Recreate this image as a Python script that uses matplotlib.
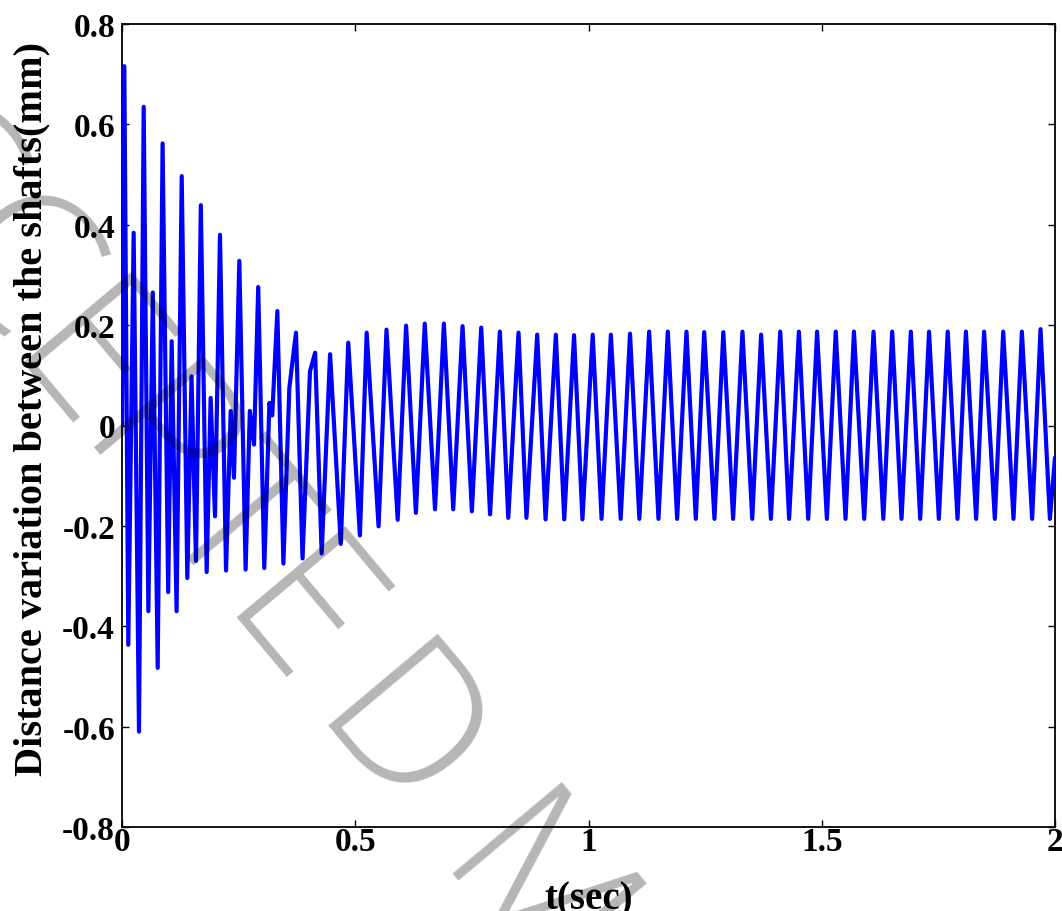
import matplotlib
matplotlib.use("Agg")
import matplotlib.pyplot as plt
from matplotlib import font_manager as fm
import numpy as np

# ---------------- data ----------------
# early transient (two interleaved oscillations), extremes in time order
transient_t = [0.000, 0.005, 0.0135, 0.025, 0.0364, 0.0465, 0.0565, 0.066, 0.0765,
               0.087, 0.099, 0.1065, 0.117, 0.128, 0.140, 0.149, 0.1586, 0.169,
               0.1815, 0.190, 0.1994, 0.210, 0.223, 0.233, 0.240, 0.2515, 0.265,
               0.274, 0.283, 0.292, 0.305, 0.316, 0.322, 0.333, 0.346, 0.3587,
               0.373, 0.387, 0.403, 0.414, 0.428]
transient_v = [0.000, 0.716, -0.437, 0.384, -0.610, 0.635, -0.370, 0.265, -0.483,
               0.562, -0.332, 0.168, -0.370, 0.497, -0.304, 0.098, -0.270, 0.439,
               -0.292, 0.055, -0.181, 0.380, -0.289, 0.029, -0.104, 0.328, -0.287,
               0.029, -0.038, 0.276, -0.284, 0.045, 0.020, 0.228, -0.275, 0.075,
               0.185, -0.265, 0.108, 0.145, -0.255]

# settled oscillation: maxima
peak_t = [0.446, 0.485, 0.5245, 0.567, 0.609, 0.649, 0.690, 0.730, 0.770, 0.810,
          0.850, 0.890, 0.930, 0.969, 1.009, 1.048, 1.089, 1.130, 1.170, 1.210,
          1.248, 1.289, 1.330, 1.370, 1.411, 1.451, 1.490, 1.530, 1.569, 1.611,
          1.651, 1.691, 1.730, 1.770, 1.809, 1.848, 1.889, 1.929, 1.969]
peak_v = [0.142, 0.165, 0.185, 0.191, 0.199, 0.203, 0.203, 0.198, 0.195, 0.187,
          0.185, 0.181, 0.181, 0.180, 0.181, 0.181, 0.183, 0.187, 0.187, 0.187,
          0.186, 0.186, 0.187, 0.181, 0.187, 0.187, 0.187, 0.187, 0.187, 0.187,
          0.187, 0.187, 0.187, 0.187, 0.187, 0.187, 0.187, 0.187, 0.192]

# settled oscillation: minima
trough_t = [0.469, 0.510, 0.550, 0.591, 0.630, 0.671, 0.710, 0.750, 0.789, 0.828,
            0.867, 0.908, 0.948, 0.987, 1.028, 1.069, 1.109, 1.150, 1.190, 1.230,
            1.270, 1.310, 1.351, 1.391, 1.430, 1.471, 1.511, 1.551, 1.591, 1.632,
            1.671, 1.711, 1.751, 1.791, 1.831, 1.871, 1.911, 1.951, 1.989]
trough_v = [-0.236, -0.219, -0.201, -0.188, -0.174, -0.167, -0.167, -0.171, -0.177, -0.184,
            -0.184, -0.187, -0.187, -0.187, -0.186, -0.186, -0.186, -0.186, -0.186, -0.186,
            -0.186, -0.186, -0.186, -0.186, -0.186, -0.186, -0.186, -0.186, -0.186, -0.186,
            -0.186, -0.186, -0.186, -0.186, -0.186, -0.186, -0.186, -0.186, -0.186]

end_t = [2.000]
end_v = [-0.064]

x_ticks = [0, 0.5, 1, 1.5, 2]
x_tick_labels = ['0', '0.5', '1', '1.5', '2']
y_ticks = [-0.8, -0.6, -0.4, -0.2, 0, 0.2, 0.4, 0.6, 0.8]
y_tick_labels = ['-0.8', '-0.6', '-0.4', '-0.2', '0', '0.2', '0.4', '0.6', '0.8']
x_label = 't(sec)'
y_label = 'Distance variation between the shafts(mm)'
watermark = 'ACCEPTED MANUSCRIPT'

# ---------------- build the series ----------------
t_all = np.concatenate([transient_t, peak_t, trough_t, end_t])
v_all = np.concatenate([transient_v, peak_v, trough_v, end_v])
order = np.argsort(t_all, kind='stable')
t_all = t_all[order]
v_all = v_all[order]

serif = ['Liberation Serif', 'DejaVu Serif']

W, H = 1062, 912
fig = plt.figure(figsize=(W / 100, H / 100), dpi=100)
ax = fig.add_axes([122 / W, 1 - 828 / H, (1055 - 122) / W, (828 - 25) / H])

ax.plot(t_all, v_all, color='#0000ff', linewidth=3.0,
        solid_joinstyle='round', solid_capstyle='round', zorder=3)

ax.set_xlim(0, 2)
ax.set_ylim(-0.8, 0.8)
ax.set_xticks(x_ticks)
ax.set_xticklabels(x_tick_labels)
ax.set_yticks(y_ticks)
ax.set_yticklabels(y_tick_labels)

for lab in ax.get_xticklabels() + ax.get_yticklabels():
    lab.set_fontfamily(serif)
    lab.set_fontweight('bold')
    lab.set_fontsize(24)

ax.tick_params(axis='both', direction='in', length=5, width=1.0,
               top=True, right=True, color='black')
ax.tick_params(axis='x', pad=-1)
ax.tick_params(axis='y', pad=5)
for s in ax.spines.values():
    s.set_linewidth(1.3)
    s.set_color('black')

ax.set_xlabel(x_label, fontfamily=serif, fontweight='bold', fontsize=28)
ax.set_ylabel(y_label, fontfamily=serif, fontweight='bold', fontsize=29)
ax.xaxis.set_label_coords(0.5, -0.067)
ax.yaxis.set_label_coords(-0.077, 0.522)

# ---------------- watermark ----------------
fonts = {(f.name, f.weight) for f in fm.fontManager.ttflist}
if ('Open Sans', 300) in fonts:
    wm_family, wm_weight = 'Open Sans', 300
elif ('Roboto', 300) in fonts:
    wm_family, wm_weight = 'Roboto', 'normal'
else:
    wm_family, wm_weight = 'Liberation Sans', 'normal'
kw = dict(rotation=-50, rotation_mode='anchor', va='baseline',
          fontfamily=wm_family, fontweight=wm_weight, fontsize=144,
          color='black', alpha=0.29, zorder=10)
split = watermark.index('D')
# ink corner of the "D" and end of the preceding "E" (pixels, from top-left)
d_x, d_y = 315, 710
e_x, e_y = 294, 686
fig.text(e_x / W, 1 - e_y / H, watermark[:split], ha='right', **kw)
fig.text(d_x / W, 1 - d_y / H, watermark[split:], ha='left', **kw)

fig.savefig('out.png', dpi=100)
